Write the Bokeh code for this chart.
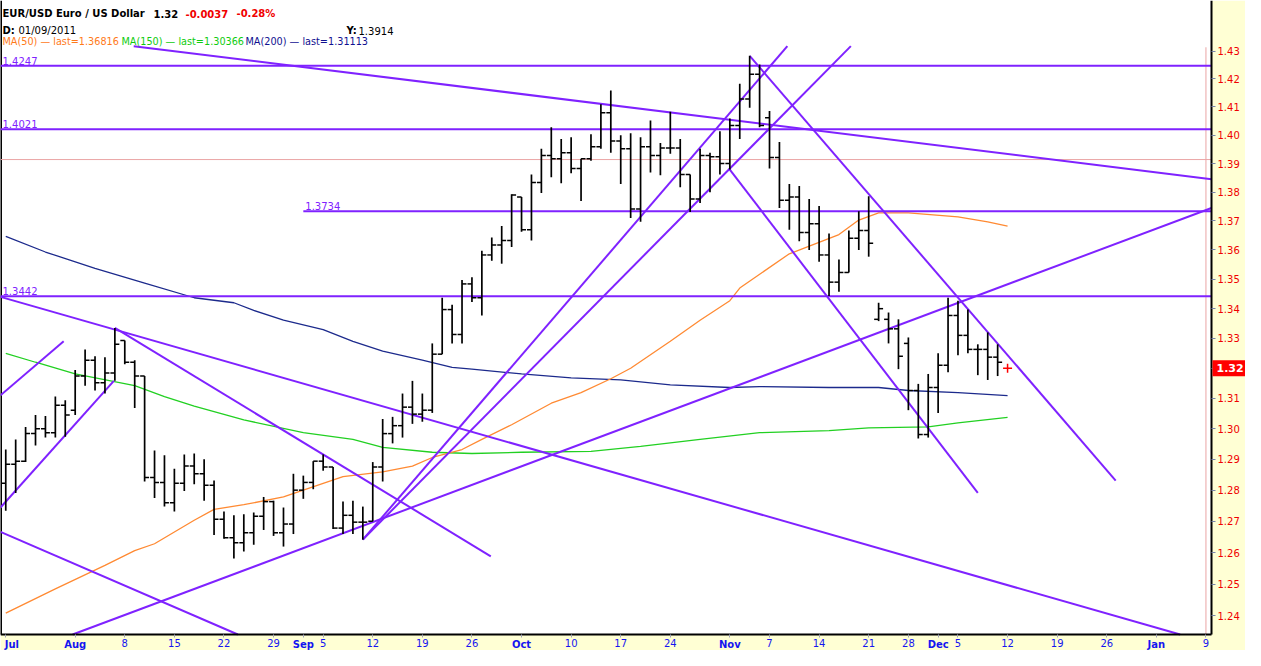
from bokeh.plotting import figure
from bokeh.models import (ColumnDataSource, FixedTicker, PrintfTickFormatter, Label, Range1d,
                          BoxAnnotation)
from bokeh.embed import file_html
from bokeh.resources import INLINE

# ---------------- data ----------------
opens = [1.2822, 1.2884, 1.2894, 1.2984, 1.3000, 1.2987, 1.3077, 1.3061, 1.3174, 1.3227,
         1.3152, 1.3184, 1.3293, 1.3220, 1.3174, 1.2841, 1.2825, 1.2759, 1.2822, 1.2878,
         1.2853, 1.2816, 1.2706, 1.2647, 1.2631, 1.2663, 1.2716, 1.2763, 1.2663, 1.2691,
         1.2800, 1.2825, 1.2894, 1.2875, 1.2678, 1.2719, 1.2697, 1.2700, 1.2875, 1.2984,
         1.3010, 1.3071, 1.3048, 1.3061, 1.3247, 1.3397, 1.3313, 1.3484, 1.3437, 1.3583,
         1.3617, 1.3633, 1.3783, 1.3670, 1.3834, 1.3928, 1.3917, 1.3938, 1.3883, 1.3917,
         1.3959, 1.4079, 1.3979, 1.3952, 1.3741, 1.3959, 1.3928, 1.3955, 1.3955, 1.3862,
         1.3776, 1.3928, 1.3924, 1.3900, 1.4034, 1.4128, 1.4217, 1.4062, 1.3921, 1.3772,
         1.3783, 1.3660, 1.3690, 1.3583, 1.3490, 1.3523, 1.3640, 1.3667, 1.3364, 1.3364,
         1.3332, 1.3283, 1.3126, 1.2981, 1.3136, 1.3210, 1.3377, 1.3310, 1.3263, 1.3263,
         1.3237]
highs = [1.2932, 1.2965, 1.3006, 1.3045, 1.3042, 1.3106, 1.3094, 1.3194, 1.3263, 1.3240,
         1.3237, 1.3335, 1.3293, 1.3227, 1.3174, 1.2929, 1.2913, 1.2869, 1.2916, 1.2919,
         1.2900, 1.2831, 1.2731, 1.2719, 1.2722, 1.2728, 1.2778, 1.2766, 1.2744, 1.2853,
         1.2847, 1.2894, 1.2916, 1.2875, 1.2763, 1.2766, 1.2747, 1.2891, 1.3032, 1.3039,
         1.3116, 1.3158, 1.3116, 1.3283, 1.3437, 1.3413, 1.3497, 1.3507, 1.3597, 1.3643,
         1.3683, 1.3793, 1.3783, 1.3862, 1.3952, 1.4028, 1.3986, 1.3993, 1.3917, 1.4003,
         1.4110, 1.4159, 1.4000, 1.4007, 1.3993, 1.4052, 1.3972, 1.4083, 1.3986, 1.3862,
         1.3952, 1.3938, 1.4014, 1.4059, 1.4183, 1.4283, 1.4252, 1.4086, 1.3976, 1.3828,
         1.3821, 1.3776, 1.3752, 1.3657, 1.3567, 1.3667, 1.3734, 1.3786, 1.3420, 1.3387,
         1.3364, 1.3303, 1.3148, 1.3181, 1.3250, 1.3437, 1.3427, 1.3397, 1.3280, 1.3320,
         1.3280]
lows = [1.2734, 1.2791, 1.2891, 1.2945, 1.2971, 1.2971, 1.2974, 1.3045, 1.3142, 1.3126,
        1.3116, 1.3158, 1.3213, 1.3068, 1.2828, 1.2775, 1.2747, 1.2731, 1.2797, 1.2819,
        1.2766, 1.2656, 1.2644, 1.2581, 1.2603, 1.2625, 1.2672, 1.2653, 1.2619, 1.2659,
        1.2772, 1.2803, 1.2863, 1.2675, 1.2659, 1.2659, 1.2641, 1.2700, 1.2828, 1.2952,
        1.2971, 1.3016, 1.3023, 1.3052, 1.3247, 1.3283, 1.3283, 1.3423, 1.3377, 1.3563,
        1.3553, 1.3610, 1.3663, 1.3633, 1.3797, 1.3852, 1.3831, 1.3866, 1.3769, 1.3910,
        1.3952, 1.3938, 1.3828, 1.3710, 1.3697, 1.3869, 1.3859, 1.3934, 1.3817, 1.3731,
        1.3762, 1.3800, 1.3862, 1.3879, 1.3986, 1.4097, 1.4028, 1.3883, 1.3745, 1.3670,
        1.3630, 1.3600, 1.3560, 1.3443, 1.3457, 1.3523, 1.3600, 1.3577, 1.3358, 1.3283,
        1.3197, 1.3061, 1.2968, 1.2971, 1.3052, 1.3187, 1.3243, 1.3250, 1.3177, 1.3161,
        1.3174]
closes = [1.2884, 1.2894, 1.2984, 1.3000, 1.2987, 1.3077, 1.3045, 1.3174, 1.3227, 1.3152,
          1.3184, 1.3280, 1.3220, 1.3174, 1.2841, 1.2825, 1.2759, 1.2822, 1.2878, 1.2853,
          1.2816, 1.2706, 1.2647, 1.2631, 1.2663, 1.2716, 1.2763, 1.2663, 1.2691, 1.2800,
          1.2825, 1.2894, 1.2875, 1.2678, 1.2719, 1.2697, 1.2697, 1.2875, 1.2984, 1.3010,
          1.3071, 1.3048, 1.3061, 1.3247, 1.3397, 1.3313, 1.3484, 1.3437, 1.3583, 1.3617,
          1.3633, 1.3790, 1.3670, 1.3834, 1.3928, 1.3917, 1.3938, 1.3883, 1.3917, 1.3959,
          1.4079, 1.3979, 1.3952, 1.3741, 1.3959, 1.3928, 1.3955, 1.3955, 1.3862, 1.3776,
          1.3928, 1.3924, 1.3900, 1.4034, 1.4128, 1.4217, 1.4034, 1.3921, 1.3772, 1.3783,
          1.3660, 1.3690, 1.3583, 1.3490, 1.3523, 1.3640, 1.3667, 1.3623, 1.3400, 1.3332,
          1.3240, 1.3126, 1.2981, 1.3136, 1.3210, 1.3377, 1.3310, 1.3263, 1.3263, 1.3237,
          1.3220]
bar_idx = list(range(len(opens)))          # trading-day index (Jul 21 = 0)

last_idx = [101]
last_price = [1.32]

ma50_idx = [0, 5, 10, 13, 15, 19, 21, 24, 28, 32, 34, 38, 41, 43, 46, 48, 51, 55, 58, 61,
            63, 67, 70, 73, 74, 79, 84, 86, 88, 91, 96, 99, 101]
ma50_val = [1.2409, 1.2485, 1.2559, 1.2606, 1.2628, 1.2703, 1.2738, 1.2753, 1.2778, 1.2822,
            1.2844, 1.2859, 1.2878, 1.2906, 1.2932, 1.2965, 1.3013, 1.3084, 1.3119, 1.3165,
            1.3200, 1.3290, 1.3361, 1.3427, 1.3470, 1.3587, 1.3653, 1.3703, 1.3728, 1.3728,
            1.3714, 1.3697, 1.3682]
ma150_idx = [0, 3, 7, 13, 16, 19, 24, 30, 35, 38, 43, 47, 52, 59, 64, 70, 76, 83, 87, 93, 96, 101]
ma150_val = [1.3250, 1.3220, 1.3181, 1.3142, 1.3106, 1.3074, 1.3029, 1.2987, 1.2965, 1.2939,
             1.2923, 1.2919, 1.2923, 1.2926, 1.2942, 1.2965, 1.2987, 1.2994, 1.3003, 1.3006,
             1.3019, 1.3037]
ma200_idx = [0, 4, 9, 14, 19, 23, 25, 28, 32, 35, 38, 42, 45, 47, 52, 57, 62, 67, 73, 76,
             83, 88, 91, 96, 101]
ma200_val = [1.3647, 1.3593, 1.3537, 1.3487, 1.3437, 1.3420, 1.3394, 1.3361, 1.3329, 1.3290,
             1.3257, 1.3227, 1.3203, 1.3197, 1.3181, 1.3168, 1.3161, 1.3145, 1.3136, 1.3139,
             1.3136, 1.3136, 1.3126, 1.3119, 1.3109]

# drawn trend lines: start (index, price) -> end (index, price)
tl_x0 = [12.9, -0.53, 11.0, -0.53, -0.53, -0.53, 6.74, 36.0, 36.0, 75.0, 72.9]
tl_y0 = [1.4318, 1.3440, 1.3335, 1.3110, 1.2744, 1.2666, 1.2342, 1.2641, 1.2641, 1.4283, 1.3883]
tl_x1 = [121.56, 118.4, 48.9, 5.84, 10.9, 23.4, 121.56, 78.8, 85.2, 111.9, 98.0]
tl_y1 = [1.3845, 1.2342, 1.2588, 1.3290, 1.3158, 1.2342, 1.3745, 1.4318, 1.4318, 1.2831, 1.2791]

# horizontal levels and where they start
hl_vals = [1.4247, 1.4021, 1.3734, 1.3442]
hl_start = [-0.53, -0.53, 30.0, -0.53]

crosshair_idx = 121
crosshair_price = 1.3914

price_ticks = [1.24, 1.25, 1.26, 1.27, 1.28, 1.29, 1.30, 1.31, 1.32, 1.33,
               1.34, 1.35, 1.36, 1.37, 1.38, 1.39, 1.40, 1.41, 1.42, 1.43]
month_idx = [0, 7, 30, 52, 73, 94, 116]
month_lab = ["Jul", "Aug", "Sep", "Oct", "Nov", "Dec", "Jan"]
week_idx = [12, 17, 22, 27, 32, 37, 42, 47, 57, 62, 67, 77, 82, 87, 91, 96, 101, 106, 111, 121]
week_lab = ["8", "15", "22", "29", "5", "12", "19", "26", "10", "17", "24", "7", "14", "21",
            "28", "5", "12", "19", "26", "9"]

# ---------------- layout / styling ----------------
FONT = "DejaVu Sans"
PURPLE = "#7F22FF"
AXIS_BLUE = "#1515F0"
YELLOW = "#FFFFD4"
W, H = 1245, 650
PLOT_W, PLOT_H = 1211, 634           # chart area; the rest is the axis bands
X0, X1 = -0.53, 121.56               # visible bar-index range of the chart area
Y0, Y1 = 1.2342, 1.4484              # visible price range of the chart area
XR1 = X0 + (X1 - X0) * W / PLOT_W
YR0 = Y1 / (Y1 / Y0) ** (H / PLOT_H)

p = figure(width=W, height=H, x_range=Range1d(X0, XR1), y_range=Range1d(YR0, Y1),
           y_axis_type="log", y_axis_location="right",
           output_backend="svg", toolbar_location=None,
           min_border_left=0, min_border_right=0, min_border_top=0, min_border_bottom=0,
           background_fill_color="white", border_fill_color=YELLOW,
           outline_line_color=None)
p.grid.visible = False

# axis bands
p.add_layout(BoxAnnotation(left=X1, fill_color=YELLOW, fill_alpha=1, line_color=None,
                           level="underlay"))
p.add_layout(BoxAnnotation(top=Y0, fill_color=YELLOW, fill_alpha=1, line_color=None,
                           level="underlay"))

ya = p.yaxis[0]
ya.fixed_location = X1
ya.bounds = (Y0, Y1)
ya.ticker = FixedTicker(ticks=price_ticks, minor_ticks=[])
ya.formatter = PrintfTickFormatter(format="%.2f")
ya.major_label_overrides = {1.32: ""}
ya.major_label_text_color = "#F00000"
ya.major_label_text_font = FONT
ya.major_label_text_font_size = "10px"
ya.major_tick_out = 4
ya.major_tick_in = 0
ya.major_tick_line_color = "#7A86A8"
ya.minor_tick_line_color = None
ya.major_label_standoff = 2
ya.axis_line_color = "black"
ya.axis_line_width = 2

xa = p.xaxis[0]
xa.fixed_location = Y0
xa.bounds = (X0, X1)
xa.ticker = FixedTicker(ticks=month_idx + week_idx, minor_ticks=[])
ov = {k: "" for k in month_idx}
ov.update({k: lab for k, lab in zip(week_idx, week_lab)})
xa.major_label_overrides = ov
xa.major_label_text_color = AXIS_BLUE
xa.major_label_text_font = FONT
xa.major_label_text_font_size = "10px"
xa.major_tick_out = 3
xa.major_tick_in = 0
xa.major_tick_line_color = "#A0A4B8"
xa.minor_tick_line_color = None
xa.major_label_standoff = 1
xa.axis_line_color = "black"
xa.axis_line_width = 2

# left border of the chart area
p.segment(x0=[X0], y0=[Y0], x1=[X0], y1=[Y1], line_color="black", line_width=3)

# crosshair
p.segment(x0=[X0, crosshair_idx], y0=[crosshair_price, Y0],
          x1=[X1, crosshair_idx], y1=[crosshair_price, 1.4314],
          line_color="#EAA5A5", line_width=1)

# moving averages
p.line(ma200_idx, ma200_val, line_color="#1C2A8C", line_width=1.3)
p.line(ma150_idx, ma150_val, line_color="#22D022", line_width=1.3)
p.line(ma50_idx, ma50_val, line_color="#FF8A33", line_width=1.3)

# horizontal levels
hl_end = [X1 for _ in hl_vals]
p.segment(x0=hl_start, y0=hl_vals, x1=hl_end, y1=hl_vals, line_color=PURPLE, line_width=2)
for v, s in zip(hl_vals, hl_start):
    p.add_layout(Label(x=s, y=v, text=f"{v:.4f}", text_font=FONT, text_font_size="10px",
                       text_color=PURPLE, text_baseline="bottom", x_offset=2, y_offset=1))

# trend lines
p.segment(x0=tl_x0, y0=tl_y0, x1=tl_x1, y1=tl_y1, line_color=PURPLE, line_width=2)

# OHLC bars
src = ColumnDataSource(dict(
    k=bar_idx, o=opens, h=highs, l=lows, c=closes,
    kl=[k - 0.45 for k in bar_idx], kr=[k + 0.45 for k in bar_idx]))
p.segment(x0="k", y0="l", x1="k", y1="h", source=src, line_color="black", line_width=1.7)
p.segment(x0="kl", y0="o", x1="k", y1="o", source=src, line_color="black", line_width=1.5)
p.segment(x0="k", y0="c", x1="kr", y1="c", source=src, line_color="black", line_width=1.5)

p.scatter(last_idx, last_price, marker="cross", size=9, line_color="#FF0000", line_width=1.5)

# last price box on the price axis
p.add_layout(Label(x=X1, y=last_price[0], text="1.32", text_font=FONT, text_font_size="11px",
                   text_font_style="bold", text_color="white", text_baseline="middle",
                   text_align="left", x_offset=1, background_fill_color="#FF0000",
                   padding=4))

# month labels (bold) on the date axis
for k, lab in zip(month_idx, month_lab):
    p.add_layout(Label(x=k, y=Y0, text=lab, text_font=FONT, text_font_size="10px",
                       text_font_style="bold", text_color=AXIS_BLUE,
                       text_align="left" if k == 0 else "center", text_baseline="top",
                       x_offset=-1 if k == 0 else 0, y_offset=-4))

# header texts
def head(x_px, base_px, text, color="black", bold=False, size="10px"):
    p.add_layout(Label(x=X0, y=Y1, x_offset=x_px, y_offset=-base_px, text=text,
                       text_font=FONT, text_font_size=size,
                       text_font_style="bold" if bold else "normal",
                       text_color=color, text_baseline="alphabetic"))

head(2, 13, "EUR/USD Euro / US Dollar", bold=True)
head(153, 13, "1.32", bold=True)
head(185, 13, "-0.0037", color="#F00000", bold=True)
head(236, 13, "-0.28%", color="#F00000", bold=True)
head(2, 30, "D:", bold=True)
head(18, 30, "01/09/2011")
head(346, 30, "Y:", bold=True)
head(358, 30, "1.3914")
head(2, 41, "MA(50) \u2014 last=1.36816", color="#FF7A1A", size="9.7px")
head(121, 41, "MA(150) \u2014 last=1.30366", color="#10CC10", size="9.7px")
head(245, 41, "MA(200) \u2014 last=1.31113", color="#101090", size="9.7px")

open("out.html", "w").write(file_html(p, INLINE))
